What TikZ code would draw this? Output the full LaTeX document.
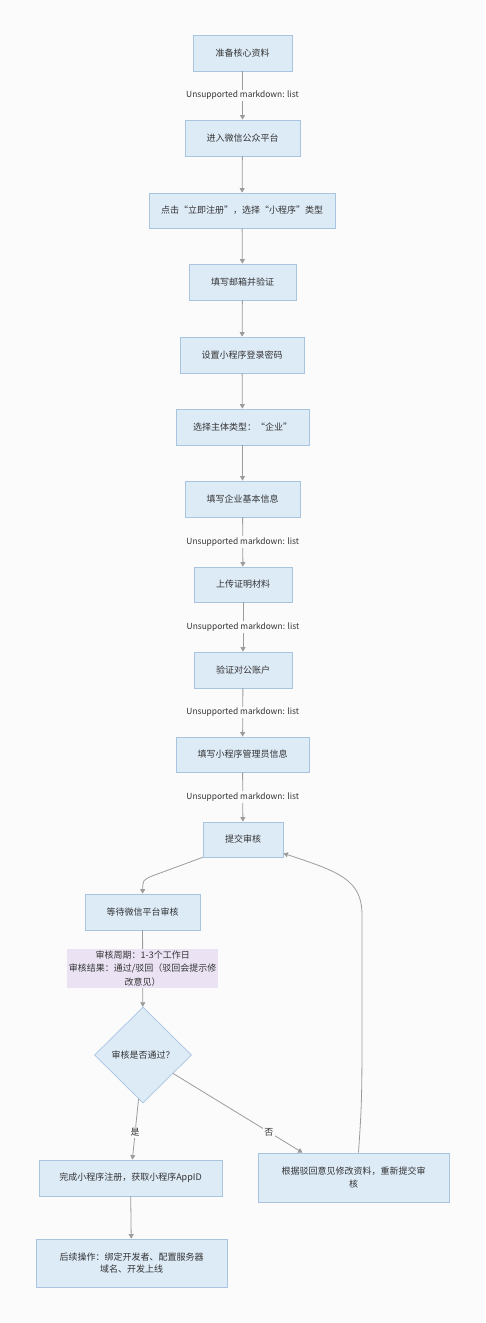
\documentclass[tikz,border=0pt]{standalone}
\usepackage{fontspec}
\setmainfont{Noto Sans CJK SC}
\usetikzlibrary{arrows.meta,shapes.geometric,calc}
\definecolor{bgc}{HTML}{FBFBFB}
\definecolor{boxfill}{HTML}{DDEBF7}
\definecolor{boxdraw}{HTML}{A9C4E0}
\definecolor{lblfill}{HTML}{EBE3F4}
\definecolor{edgec}{HTML}{9C9C9C}
\definecolor{txt}{HTML}{333333}
\begin{document}
\begin{tikzpicture}[x=1pt,y=-1pt,
  every node/.style={text=txt,font=\fontsize{9}{13}\selectfont},
  stepbox/.style={draw=boxdraw,fill=boxfill,line width=0.7pt,minimum height=36pt,inner sep=2pt,align=center},
  decision/.style={diamond,draw=boxdraw,fill=boxfill,line width=0.7pt,minimum width=97pt,minimum height=96pt,inner sep=0pt},
  elabel/.style={fill=bgc,inner sep=1.5pt},
  mdlabel/.style={fill=bgc,inner sep=1.5pt,font=\fontsize{8.4}{11}\selectfont},
  notelabel/.style={fill=lblfill,inner sep=2pt,align=center,minimum width=147pt,font=\fontsize{9}{13.5}\selectfont},
  conn/.style={draw=edgec,line width=0.8pt,-{Triangle[length=4.5pt,width=5pt]}}
]
\fill[bgc] (0,0) rectangle (485,1323);
\useasboundingbox (0,0) rectangle (485,1323);

\node[stepbox,minimum width=99pt] (n1) at (242.5,53) {准备核心资料};
\node[stepbox,minimum width=115pt] (n2) at (242.5,138) {进入微信公众平台};
\node[stepbox,minimum width=186pt,minimum height=35pt] (n3) at (242,210.5) {点击“立即注册”，选择“小程序”类型};
\node[stepbox,minimum width=107pt] (n4) at (242.5,282) {填写邮箱并验证};
\node[stepbox,minimum width=124pt] (n5) at (242,355) {设置小程序登录密码};
\node[stepbox,minimum width=133pt] (n6) at (242.5,427) {选择主体类型：“企业”};
\node[stepbox,minimum width=115pt] (n7) at (242.5,499) {填写企业基本信息};
\node[stepbox,minimum width=98pt,minimum height=35pt] (n8) at (243,584.5) {上传证明材料};
\node[stepbox,minimum width=98pt] (n9) at (243,670) {验证对公账户};
\node[stepbox,minimum width=133pt,minimum height=35pt] (n10) at (242.5,754.5) {填写小程序管理员信息};
\node[stepbox,minimum width=80pt,minimum height=35pt] (n11) at (243,839.5) {提交审核};
\node[stepbox,minimum width=115pt] (n12) at (142.5,912) {等待微信平台审核};
\node[decision] (d) at (143,1055) {审核是否通过？};
\node[stepbox,minimum width=183pt] (n13) at (130.5,1178) {完成小程序注册，获取小程序AppID};
\node[stepbox,minimum width=191pt,minimum height=49pt,font=\fontsize{9}{12.7}\selectfont] (n14) at (353.5,1177.5) {根据驳回意见修改资料，重新提交审\\核};
\node[stepbox,minimum width=191pt,minimum height=48pt,font=\fontsize{9}{12.7}\selectfont] (n15) at (131.5,1263) {后续操作：绑定开发者、配置服务器\\域名、开发上线};

\draw[conn] (n1) -- node[mdlabel] {Unsupported markdown: list} (n2);
\draw[conn] (n2) -- (n3);
\draw[conn] (n3) -- (n4);
\draw[conn] (n4) -- (n5);
\draw[conn] (n5) -- (n6);
\draw[conn] (n6) -- (n7);
\draw[conn] (n7) -- node[mdlabel] {Unsupported markdown: list} (n8);
\draw[conn] (n8) -- node[mdlabel] {Unsupported markdown: list} (n9);
\draw[conn] (n9) -- node[mdlabel] {Unsupported markdown: list} (n10);
\draw[conn] (n10) -- node[mdlabel] {Unsupported markdown: list} (n11);
\draw[conn] (n11.south west) -- (152,876) .. controls (143,880) .. (n12.north);
\draw[conn] (n12) -- node[notelabel] {审核周期：1-3个工作日\\审核结果：通过/驳回（驳回会提示修\\改意见）} (d);
\draw[conn] (d) -- node[elabel,pos=0.55] {是} (n13);
\draw[conn] (d) -- node[elabel,pos=0.74] {否} ([xshift=-51pt]n14.north);
\draw[conn] ([xshift=5pt]n14.north) .. controls (362,1100) .. (362,1000) -- (362,915) .. controls (362,880) and (340,872) .. ([yshift=4pt]n11.south east);
\draw[conn] (n13) -- (n15);
\end{tikzpicture}
\end{document}
